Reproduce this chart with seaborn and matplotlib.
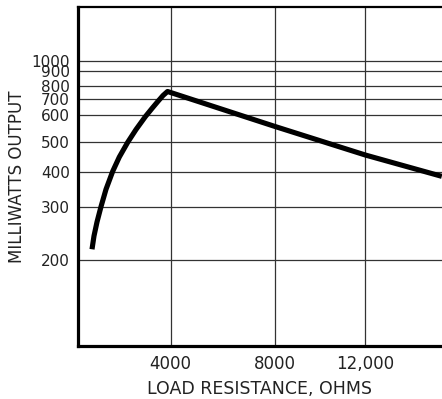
import matplotlib
matplotlib.use("Agg")
import matplotlib.pyplot as plt
import matplotlib.ticker as mticker
import seaborn as sns
import pandas as pd
import numpy as np

# Data (values relative to its printed grid)
load_ohms = [604, 690, 820, 992, 1208, 1497, 1782, 2145, 2503, 2909, 3193, 3465,
             3668, 3862, 8000, 12000, 15400]
milliwatts = [217, 240, 267, 300, 346, 401, 447, 500, 545, 595, 641, 689,
              727, 757, 556, 454, 385]

y_ticks = [200, 300, 400, 500, 600, 700, 800, 900, 1000]
y_tick_labels = ["200", "300", "400", "500", "600", "700", "800", "900", "1000"]
x_ticks = [4000, 8000, 12000]
x_tick_labels = ["4000", "8000", "12,000"]

# The printed graph paper is hand ruled: its grid spacing is not uniform.
# These anchors describe that ruling (grid value -> relative position).
X_ANCHOR_VAL = [-4000, 0, 4000, 8000, 12000, 16000, 20000]
X_ANCHOR_POS = [-14.7, 78.0, 170.7, 275.3, 365.3, 455.3, 545.3]
Y_ANCHOR_VAL = [10, 100, 200, 300, 400, 500, 600, 700, 800, 900, 1000, 10000]
Y_ANCHOR_POS = [-230.7, 54.3, 140.0, 193.3, 228.3, 257.7, 284.7, 300.7,
                314.0, 328.7, 339.3, 624.3]

xa_v = np.array(X_ANCHOR_VAL, float)
xa_p = np.array(X_ANCHOR_POS, float)
ya_v = np.log10(np.array(Y_ANCHOR_VAL, float))
ya_p = np.array(Y_ANCHOR_POS, float)


def x_fwd(v):
    return np.interp(v, xa_v, xa_p)


def x_inv(p):
    return np.interp(p, xa_p, xa_v)


def y_fwd(v):
    v = np.clip(np.asarray(v, float), 1e-3, None)
    return np.interp(np.log10(v), ya_v, ya_p)


def y_inv(p):
    return 10 ** np.interp(p, ya_p, ya_v)


sns.set_theme(style="white")
plt.rcParams["font.family"] = ["DejaVu Sans"]

fig = plt.figure(figsize=(4.42, 3.99), dpi=100)
ax = fig.add_axes([0.17647, 0.13358, 0.82353, 0.84888])

df = pd.DataFrame({"ohms": load_ohms, "mw": milliwatts})
sns.lineplot(data=df, x="ohms", y="mw", ax=ax, color="black", linewidth=3.7,
             sort=False, estimator=None, solid_capstyle="butt",
             solid_joinstyle="round", zorder=5)

ax.set_xscale("function", functions=(x_fwd, x_inv))
ax.set_yscale("function", functions=(y_fwd, y_inv))
ax.set_xlim(0, 15409)
ax.set_ylim(100, 1543)

ax.yaxis.set_major_locator(mticker.FixedLocator(y_ticks))
ax.yaxis.set_major_formatter(mticker.FixedFormatter(y_tick_labels))
ax.yaxis.set_minor_locator(mticker.NullLocator())
ax.xaxis.set_major_locator(mticker.FixedLocator(x_ticks))
ax.xaxis.set_major_formatter(mticker.FixedFormatter(x_tick_labels))
ax.xaxis.set_minor_locator(mticker.NullLocator())

ax.grid(True, which="major", color="#333333", linewidth=0.9)
ax.tick_params(axis="both", length=0, colors="#222222")
ax.tick_params(axis="y", pad=6, labelsize=11)
ax.tick_params(axis="x", pad=7, labelsize=12)

for side in ["left", "bottom"]:
    ax.spines[side].set_linewidth(2.3)
    ax.spines[side].set_color("black")
ax.spines["top"].set_linewidth(1.6)
ax.spines["top"].set_color("black")
ax.spines["right"].set_visible(False)

ax.set_xlabel("LOAD RESISTANCE, OHMS", fontsize=12.5, color="#222222", labelpad=5)
ax.set_ylabel("MILLIWATTS OUTPUT", fontsize=12, color="#222222", labelpad=4)

fig.savefig("out.png", dpi=100, facecolor="white")
